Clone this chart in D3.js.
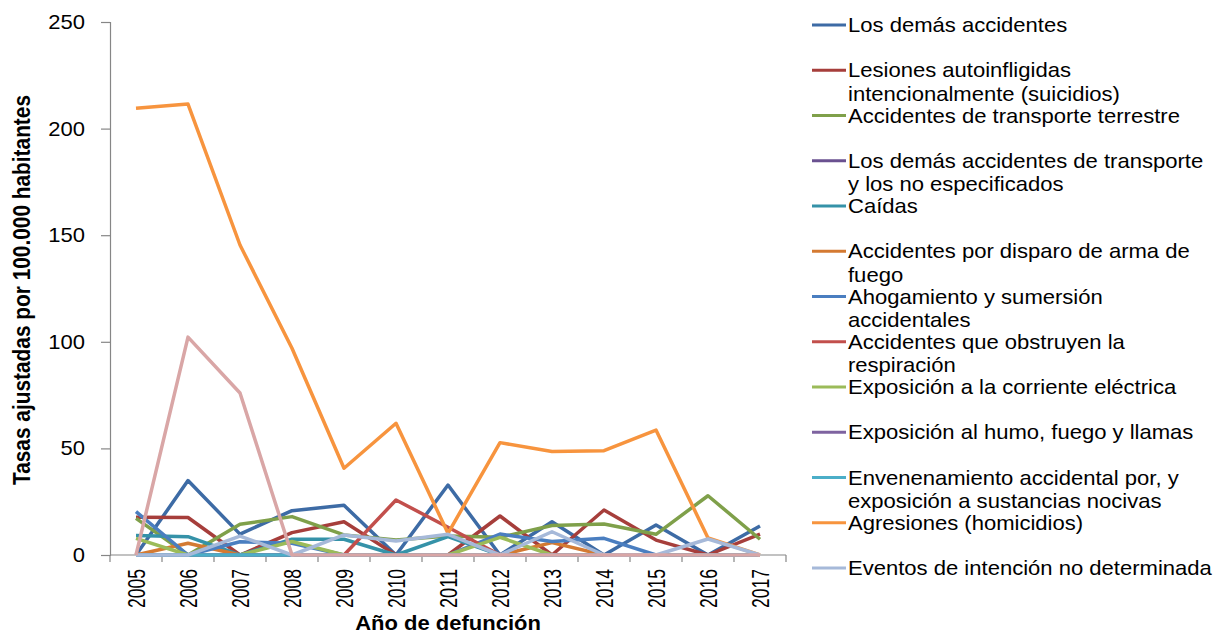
<!DOCTYPE html>
<html>
<head>
<meta charset="utf-8">
<script src="https://cdn.jsdelivr.net/npm/d3@7"></script>
<style>
  body { margin: 0; background: #fff; }
  text { font-family: "Liberation Sans", Arial, sans-serif; fill: #000; }
</style>
</head>
<body>
<div id="chart"></div>
<script>
// years on the category axis
var years = ["2005","2006","2007","2008","2009","2010","2011","2012","2013","2014","2015","2016","2017"];
var yTicks = [0, 50, 100, 150, 200, 250];

// series names (legend shows the first 13 only)
var seriesNames = [
  "Los demás accidentes",
  "Lesiones autoinfligidas\nintencionalmente (suicidios)",
  "Accidentes de transporte terrestre",
  "Los demás accidentes de transporte\ny los no especificados",
  "Caídas",
  "Accidentes por disparo de arma de\nfuego",
  "Ahogamiento y sumersión\naccidentales",
  "Accidentes que obstruyen la\nrespiración",
  "Exposición a la corriente eléctrica",
  "Exposición al humo, fuego y llamas",
  "Envenenamiento accidental por, y\nexposición a sustancias nocivas",
  "Agresiones (homicidios)",
  "Eventos de intención no determinada",
  "Otras causas"
];
var seriesColors = ["#3D6BA5","#A63E3B","#7FA04A","#6A5190","#3592A8","#D47A32",
                    "#4A7EC0","#C24F4C","#9BBB59","#7E63A0","#4BAEC8","#F7943E",
                    "#A6B9D9","#D9A6A6"];

// values per series, 2005..2017
var demasAccidentes = [0, 34.9, 9.8, 20.8, 23.3, 0, 32.8, 0, 15.6, 0, 14.1, 0, 13.6];
var suicidios       = [17.7, 17.6, 0, 10.5, 15.6, 0, 0, 18.3, 0, 21.1, 7.0, 0, 9.8];
var transporteTerr  = [17.2, 0, 14.4, 18.0, 9.4, 7.0, 8.9, 8.3, 13.8, 14.5, 9.7, 27.8, 7.4];
var demasTransporte = [0, 0, 0, 0, 0, 0, 0, 0, 0, 0, 0, 0, 0];
var caidas          = [9.1, 8.6, 0, 7.4, 7.4, 0, 8.6, 0, 0, 0, 0, 0, 0];
var armaFuego       = [0, 5.5, 0, 0, 0, 0, 0, 0, 5.8, 0, 0, 0, 0];
var ahogamiento     = [20.3, 0, 6.2, 5.5, 0, 0, 0, 9.8, 6.3, 7.8, 0, 0, 0];
var obstruyen       = [0, 0, 0, 0, 0, 25.8, 13.0, 0, 0, 0, 0, 0, 0];
var electrica       = [7.8, 0, 0, 6.3, 0, 0, 0, 8.3, 0, 0, 0, 0, 0];
var humoFuego       = [0, 0, 0, 0, 0, 0, 0, 0, 0, 0, 0, 0, 0];
var envenenamiento  = [0, 0, 0, 0, 0, 0, 0, 0, 0, 0, 0, 0, 0];
var homicidios      = [209.5, 211.5, 145.4, 97.0, 40.7, 61.8, 10.2, 52.7, 48.5, 48.9, 58.6, 8.0, 0];
var noDeterminada   = [0, 0, 8.9, 0, 9.4, 6.6, 9.7, 0, 10.9, 0, 0, 7.5, 0];
var otras           = [0, 102.2, 76.0, 0, 0, 0, 0, 0, 0, 0, 0, 0, 0];

var seriesValues = [demasAccidentes, suicidios, transporteTerr, demasTransporte, caidas,
                    armaFuego, ahogamiento, obstruyen, electrica, humoFuego,
                    envenenamiento, homicidios, noDeterminada, otras];

var svgWidth = 1217, svgHeight = 634;
var plotLeft = 110, plotRight = 786, plotTop = 22, plotBottom = 555;
var stretch = 1.1; // horizontal text widening seen in the picture

var svg = d3.select("#chart").append("svg")
    .attr("width", svgWidth)
    .attr("height", svgHeight);

var x = d3.scaleBand().domain(years).range([plotLeft, plotRight]).padding(0);
var y = d3.scaleLinear().domain([0, 250]).range([plotBottom, plotTop]);

// y axis
var yAxis = svg.append("g")
    .attr("transform", "translate(" + plotLeft + ",0)")
    .call(d3.axisLeft(y).tickValues(yTicks).tickSize(9).tickPadding(13.7));
yAxis.select(".domain").attr("stroke", "#868686").attr("stroke-width", 1.2);
yAxis.selectAll(".tick line").attr("stroke", "#868686").attr("stroke-width", 1.2);
yAxis.selectAll(".tick text")
    .style("font-size", "20px")
    .style("font-family", "'Liberation Sans', Arial, sans-serif")
    .attr("transform", "scale(" + stretch + ",1)")
    .attr("fill", "#000");

// x axis: ticks between categories
var xAxis = svg.append("g")
    .attr("transform", "translate(0," + plotBottom + ")");
xAxis.append("line")
    .attr("x1", plotLeft).attr("x2", plotRight)
    .attr("stroke", "#868686").attr("stroke-width", 1.2);
var boundaries = years.map(function(d) { return x(d); }).concat([x(years[years.length - 1]) + x.bandwidth()]);
xAxis.selectAll(".xtick")
    .data(boundaries)
  .enter().append("line")
    .attr("class", "xtick")
    .attr("x1", function(d) { return d; })
    .attr("x2", function(d) { return d; })
    .attr("y1", 0).attr("y2", 7)
    .attr("stroke", "#868686").attr("stroke-width", 1.2);
xAxis.selectAll(".xlabel")
    .data(years)
  .enter().append("text")
    .attr("class", "xlabel")
    .attr("transform", function(d) {
        return "translate(" + (x(d) + x.bandwidth() / 2 + 8.5) + ",14) rotate(-90)";
    })
    .attr("text-anchor", "end")
    .attr("textLength", 39)
    .attr("lengthAdjust", "spacingAndGlyphs")
    .style("font-size", "24px")
    .text(function(d) { return d; });

// lines
var line = d3.line()
    .x(function(d, i) { return x(years[i]) + x.bandwidth() / 2; })
    .y(function(d) { return y(d); });

svg.append("g").selectAll(".series")
    .data(seriesValues)
  .enter().append("path")
    .attr("class", "series")
    .attr("d", line)
    .attr("fill", "none")
    .attr("stroke", function(d, i) { return seriesColors[i]; })
    .attr("stroke-width", 3.5)
    .attr("stroke-linejoin", "round");

// axis titles
svg.append("text")
    .attr("transform", "translate(" + 448 + ",630) scale(" + stretch + ",1)")
    .attr("text-anchor", "middle")
    .style("font-size", "20px")
    .style("font-weight", "bold")
    .text("Año de defunción");

svg.append("text")
    .attr("transform", "translate(30,290) rotate(-90)")
    .attr("text-anchor", "middle")
    .style("font-size", "24px")
    .style("font-weight", "bold")
    .attr("textLength", 390)
    .attr("lengthAdjust", "spacingAndGlyphs")
    .text("Tasas ajustadas por 100.000 habitantes");

// legend (13 entries)
var legendY = d3.scaleLinear().domain([0, 12]).range([25, 568]);
var legend = svg.append("g").selectAll(".legend")
    .data(seriesNames.slice(0, 13))
  .enter().append("g")
    .attr("class", "legend")
    .attr("transform", function(d, i) { return "translate(812," + legendY(i) + ")"; });

legend.append("line")
    .attr("x1", 0).attr("x2", 34)
    .attr("stroke", function(d, i) { return seriesColors[i]; })
    .attr("stroke-width", 3);

legend.append("text")
    .attr("transform", "translate(36,7) scale(1.05,1)")
    .style("font-size", "21px")
    .selectAll("tspan")
    .data(function(d) { return d.split("\n"); })
  .enter().append("tspan")
    .attr("x", 0)
    .attr("dy", function(d, i) { return i === 0 ? 0 : 23.5; })
    .text(function(d) { return d; });
</script>
</body>
</html>
